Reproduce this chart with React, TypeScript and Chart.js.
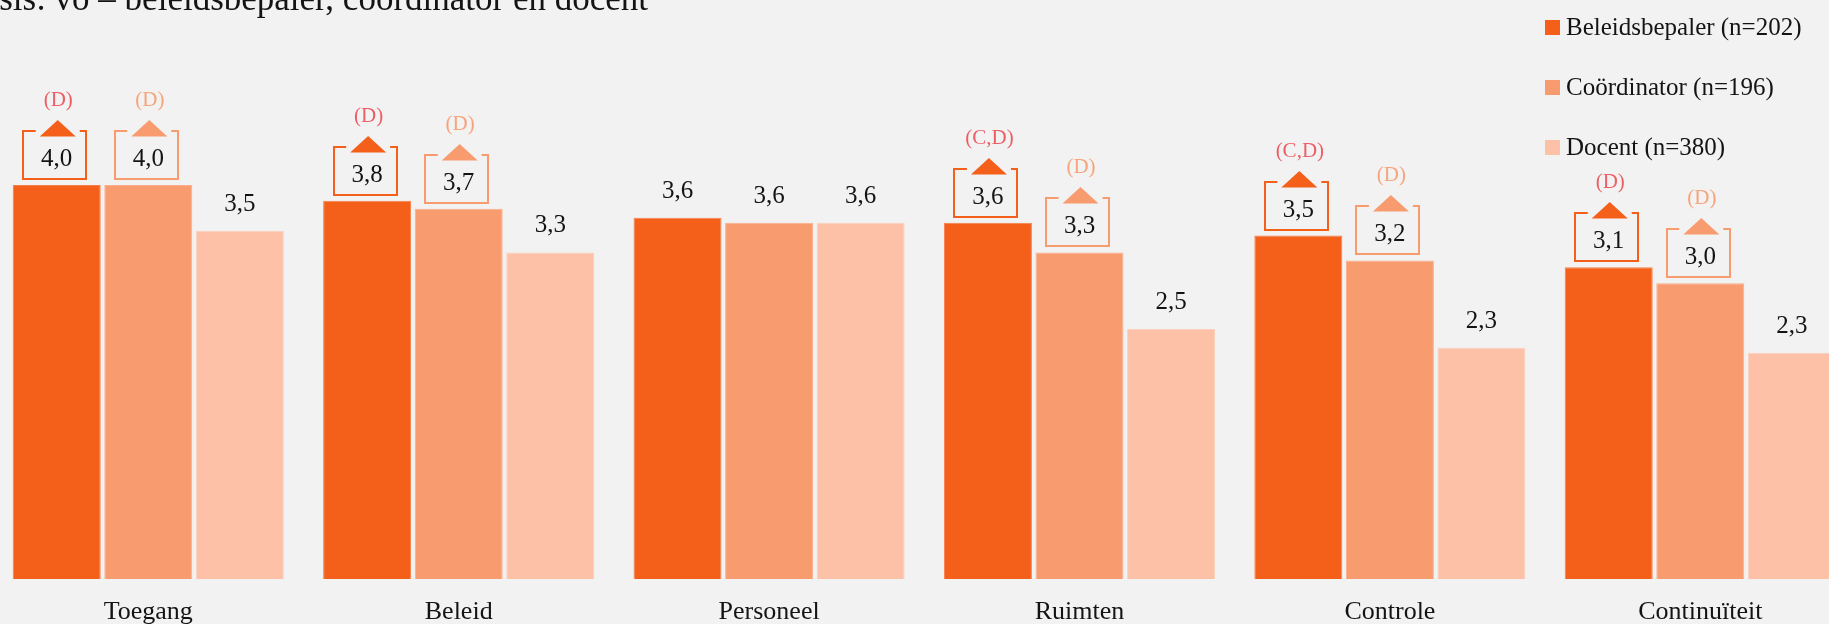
import React, { useEffect, useRef } from 'react';
import { Chart, registerables } from 'chart.js';

Chart.register(...registerables);

const FONT = '"Liberation Serif", "Times New Roman", serif';

const titleText = 'Basis: vo – beleidsbepaler, coördinator en docent';
const categories = ['Toegang', 'Beleid', 'Personeel', 'Ruimten', 'Controle', 'Continuïteit'];
const seriesNames = ['Beleidsbepaler (n=202)', 'Coördinator (n=196)', 'Docent (n=380)'];
const beleidsbepaler = [3.97, 3.81, 3.64, 3.59, 3.46, 3.14];
const coordinator = [3.97, 3.73, 3.59, 3.29, 3.21, 2.98];
const docent = [3.51, 3.29, 3.59, 2.52, 2.33, 2.28];
const sigBeleidsbepaler = ['(D)', '(D)', '', '(C,D)', '(C,D)', '(D)'];
const sigCoordinator = ['(D)', '(D)', '', '(D)', '(D)', '(D)'];
const sigDocent = ['', '', '', '', '', ''];

const barColors = ['#F45F1A', '#F89B6E', '#FCC1A6'];
const barBorders = ['#F6804A', '#FAAE89', '#FDD0BB'];
const sigColors = ['#EC5F67', '#F7A47C', '#F7A47C'];
const sigLists = [sigBeleidsbepaler, sigCoordinator, sigDocent];

const OFFSET_X = 50;
const CANVAS_W = 1960;
const CANVAS_H = 624;

const fmt = (v: number) => v.toFixed(1).replace('.', ',');

const annotationPlugin = {
  id: 'barAnnotations',
  afterDatasetsDraw(chart: any) {
    const ctx = chart.ctx as CanvasRenderingContext2D;
    ctx.save();
    chart.data.datasets.forEach((ds: any, di: number) => {
      const meta = chart.getDatasetMeta(di);
      const sig = sigLists[di];
      meta.data.forEach((el: any, j: number) => {
        const { x, y } = el.getProps(['x', 'y'], true);
        const label = fmt(ds.data[j] as number);
        ctx.textAlign = 'center';
        ctx.textBaseline = 'alphabetic';
        ctx.font = `25px ${FONT}`;
        if (sig[j]) {
          const boxTop = Math.round(y - 54);
          const boxBottom = Math.round(y - 6);
          const boxL = Math.round(x - 33.5);
          const boxR = Math.round(x + 29.5);
          const tc = x + 1;
          ctx.strokeStyle = barColors[di];
          ctx.lineWidth = 2;
          ctx.beginPath();
          ctx.moveTo(tc - 22, boxTop);
          ctx.lineTo(boxL, boxTop);
          ctx.lineTo(boxL, boxBottom);
          ctx.lineTo(boxR, boxBottom);
          ctx.lineTo(boxR, boxTop);
          ctx.lineTo(tc + 22, boxTop);
          ctx.stroke();
          ctx.fillStyle = barColors[di];
          ctx.beginPath();
          ctx.moveTo(tc - 18, boxTop + 5.5);
          ctx.lineTo(tc, boxTop - 11);
          ctx.lineTo(tc + 18, boxTop + 5.5);
          ctx.closePath();
          ctx.fill();
          ctx.fillStyle = '#141414';
          ctx.fillText(label, x, boxTop + 35);
          ctx.fillStyle = sigColors[di];
          ctx.font = `21px ${FONT}`;
          ctx.fillText(sig[j], x + 1.5, boxTop - 25);
        } else {
          ctx.fillStyle = '#141414';
          ctx.fillText(label, x, y - 20);
        }
      });
    });
    ctx.restore();
  },
};

const decorPlugin = {
  id: 'decor',
  afterDraw(chart: any) {
    const ctx = chart.ctx as CanvasRenderingContext2D;
    ctx.save();
    // title (clipped by the page edge, as in the reference)
    ctx.font = `35px ${FONT}`;
    ctx.fillStyle = '#141414';
    ctx.textAlign = 'right';
    ctx.textBaseline = 'alphabetic';
    ctx.fillText(titleText, 648 + OFFSET_X, 9.5);
    // legend
    ctx.font = `25px ${FONT}`;
    ctx.textAlign = 'left';
    ctx.textBaseline = 'middle';
    seriesNames.forEach((name, i) => {
      const top = 20 + i * 60;
      ctx.fillStyle = barColors[i];
      ctx.fillRect(1545 + OFFSET_X, top, 15, 15);
      ctx.fillStyle = '#141414';
      ctx.fillText(name, 1566 + OFFSET_X, top + 8);
    });
    ctx.restore();
  },
};

export default function App() {
  const canvasRef = useRef<HTMLCanvasElement | null>(null);

  useEffect(() => {
    const canvas = canvasRef.current;
    if (!canvas) return;
    const series = [beleidsbepaler, coordinator, docent];
    const chart = new Chart(canvas, {
      type: 'bar',
      data: {
        labels: categories,
        datasets: series.map((data, i) => ({
          label: seriesNames[i],
          data,
          backgroundColor: barColors[i],
          borderColor: barBorders[i],
          borderWidth: 1,
          borderSkipped: 'bottom',
          categoryPercentage: 0.885,
          barPercentage: 0.961,
        })),
      },
      options: {
        responsive: false,
        animation: false,
        devicePixelRatio: 1,
        layout: {
          padding: { left: 43.1, right: 54.5, top: 82.75, bottom: 0 },
        },
        plugins: {
          legend: { display: false },
          title: { display: false },
          tooltip: { enabled: false },
        },
        scales: {
          x: {
            grid: { display: false, drawTicks: false },
            border: { display: false },
            ticks: {
              color: '#141414',
              font: { family: FONT, size: 26 },
              padding: 18,
              maxRotation: 0,
              autoSkip: false,
            },
            afterFit(scale: any) {
              scale.height = 45;
            },
          },
          y: {
            display: false,
            min: 0,
            max: 5,
          },
        },
      },
      plugins: [annotationPlugin, decorPlugin],
    } as any);
    return () => chart.destroy();
  }, []);

  return (
    <div
      style={{
        position: 'fixed',
        left: 0,
        top: 0,
        width: 1829,
        height: 624,
        overflow: 'hidden',
        background: '#f2f2f2',
      }}
    >
      <canvas
        ref={canvasRef}
        width={CANVAS_W}
        height={CANVAS_H}
        style={{ position: 'absolute', left: -OFFSET_X, top: 0, width: CANVAS_W, height: CANVAS_H }}
      />
    </div>
  );
}
